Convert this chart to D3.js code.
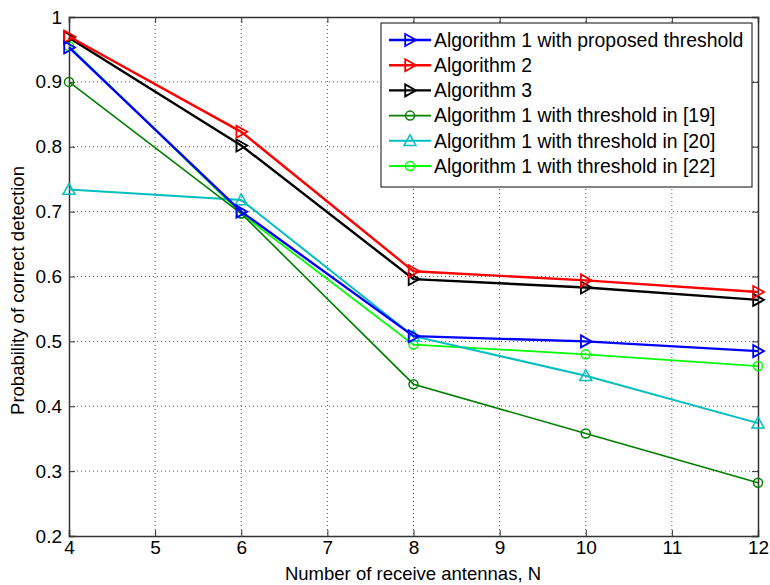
<!DOCTYPE html>
<html>
<head>
<meta charset="utf-8">
<style>
  body { margin: 0; background: #fff; }
  text { font-family: "Liberation Sans", Arial, sans-serif; fill: #000; }
</style>
</head>
<body>
<svg id="chart" width="770" height="585"></svg>
<script src="https://cdn.jsdelivr.net/npm/d3@7/dist/d3.min.js"></script>
<script>
var antennas = [4, 6, 8, 10, 12];
var xTicks = [4, 5, 6, 7, 8, 9, 10, 11, 12];
var yTicks = [0.2, 0.3, 0.4, 0.5, 0.6, 0.7, 0.8, 0.9, 1];

var alg1Proposed = [0.953, 0.700, 0.508, 0.500, 0.485];
var alg2 = [0.970, 0.823, 0.608, 0.594, 0.576];
var alg3 = [0.968, 0.802, 0.596, 0.583, 0.564];
var alg1Ref19 = [0.900, 0.697, 0.434, 0.358, 0.282];
var alg1Ref20 = [0.734, 0.718, 0.508, 0.447, 0.374];
var alg1Ref22 = [0.955, 0.697, 0.495, 0.480, 0.462];

var seriesNames = [
  "Algorithm 1 with proposed threshold",
  "Algorithm 2",
  "Algorithm 3",
  "Algorithm 1 with threshold in [19]",
  "Algorithm 1 with threshold in [20]",
  "Algorithm 1 with threshold in [22]"
];
var seriesValues = [alg1Proposed, alg2, alg3, alg1Ref19, alg1Ref20, alg1Ref22];
var seriesColors = ["#0000ff", "#ff0000", "#000000", "#008000", "#00bfbf", "#00ff00"];
var seriesMarkers = ["tri", "tri", "tri", "circle", "up", "circle"];
var seriesWidths = [2.4, 2.4, 2.4, 1.6, 2, 1.8];

(function() {
var svg = d3.select("#chart");
var m = { left: 69, right: 758, top: 17, bottom: 536 };
var fontSize = "19.4px";

var x = d3.scaleLinear().domain([4, 12]).range([m.left, m.right]);
var y = d3.scaleLinear().domain([0.2, 1]).range([m.bottom, m.top]);

// grid
var grid = svg.append("g");
grid.selectAll(".gx").data(xTicks.slice(1, -1)).enter().append("line")
  .attr("x1", d => x(d)).attr("x2", d => x(d))
  .attr("y1", m.top).attr("y2", m.bottom)
  .attr("stroke", "#555").attr("stroke-width", 1).attr("stroke-dasharray", "1,3");
grid.selectAll(".gy").data(yTicks.slice(1, -1)).enter().append("line")
  .attr("x1", m.left).attr("x2", m.right)
  .attr("y1", d => y(d)).attr("y2", d => y(d))
  .attr("stroke", "#555").attr("stroke-width", 1).attr("stroke-dasharray", "1,3");

// axes (ticks inward, matlab style)
var axisColor = "#333";
var bx = svg.append("g").attr("transform", "translate(0," + m.bottom + ")")
  .call(d3.axisBottom(x).tickValues(xTicks).tickSize(-6).tickPadding(8).tickFormat(d3.format("d")));
var tx = svg.append("g").attr("transform", "translate(0," + m.top + ")")
  .call(d3.axisTop(x).tickValues(xTicks).tickSize(-6).tickFormat(""));
var ly = svg.append("g").attr("transform", "translate(" + m.left + ",0)")
  .call(d3.axisLeft(y).tickValues(yTicks).tickSize(-6).tickPadding(7).tickFormat(d => d === 1 ? "1" : d3.format(".1f")(d)));
var ry = svg.append("g").attr("transform", "translate(" + m.right + ",0)")
  .call(d3.axisRight(y).tickValues(yTicks).tickSize(-6).tickFormat(""));
[bx, tx, ly, ry].forEach(function(g) {
  g.selectAll("path").attr("stroke", axisColor).attr("stroke-width", 1.5);
  g.selectAll("line").attr("stroke", axisColor).attr("stroke-width", 1);
  g.selectAll("text").style("font-size", "19px").attr("fill", "#000")
    .style("font-family", "'Liberation Sans', Arial, sans-serif");
});
bx.selectAll("text").attr("dy", "0.55em");
ly.selectAll("text").attr("dy", "0.32em");

// axis titles
svg.append("text").attr("x", 413).attr("y", 580)
  .attr("text-anchor", "middle").style("font-size", "18.5px")
  .text("Number of receive antennas, N");
svg.append("text")
  .attr("transform", "translate(24," + ((m.top + m.bottom) / 2 + 14) + ") rotate(-90)")
  .attr("text-anchor", "middle").style("font-size", "18.5px")
  .text("Probability of correct detection");

function drawMarker(g, type, cx, cy, color) {
  if (type === "circle") {
    g.append("circle").attr("cx", cx).attr("cy", cy).attr("r", 4.5)
      .attr("fill", "none").attr("stroke", color).attr("stroke-width", 1.5);
  } else if (type === "tri") {
    var s = 6;
    g.append("path")
      .attr("d", "M" + (cx - s * 0.8) + "," + (cy - s) + "L" + (cx + s) + "," + cy + "L" + (cx - s * 0.8) + "," + (cy + s) + "Z")
      .attr("fill", "none").attr("stroke", color).attr("stroke-width", 1.8);
  } else {
    var t = 6;
    g.append("path")
      .attr("d", "M" + cx + "," + (cy - t) + "L" + (cx + t) + "," + (cy + t * 0.8) + "L" + (cx - t) + "," + (cy + t * 0.8) + "Z")
      .attr("fill", "none").attr("stroke", color).attr("stroke-width", 1.5);
  }
}

// series, drawn in reverse so algorithm 1 stays on top
var line = d3.line().x(d => x(d[0])).y(d => y(d[1]));
[5, 4, 3, 2, 1, 0].forEach(function(i) {
  var pts = antennas.map((a, j) => [a, seriesValues[i][j]]);
  var g = svg.append("g");
  g.append("path").datum(pts).attr("d", line)
    .attr("fill", "none").attr("stroke", seriesColors[i]).attr("stroke-width", seriesWidths[i]);
  pts.forEach(function(p) { drawMarker(g, seriesMarkers[i], x(p[0]), y(p[1]), seriesColors[i]); });
});

// legend
var lg = svg.append("g");
lg.append("rect").attr("x", 381).attr("y", 23).attr("width", 371).attr("height", 164)
  .attr("fill", "#fff").attr("stroke", "#333").attr("stroke-width", 1.2);
seriesNames.forEach(function(name, i) {
  var rowY = 40 + i * 25.2;
  lg.append("line").attr("x1", 389).attr("x2", 431).attr("y1", rowY).attr("y2", rowY)
    .attr("stroke", seriesColors[i]).attr("stroke-width", seriesWidths[i]);
  drawMarker(lg, seriesMarkers[i], 410, rowY, seriesColors[i]);
  lg.append("text").attr("x", 434).attr("y", rowY).attr("dy", "0.35em")
    .style("font-size", fontSize).text(name);
});
})();
</script>
</body>
</html>
